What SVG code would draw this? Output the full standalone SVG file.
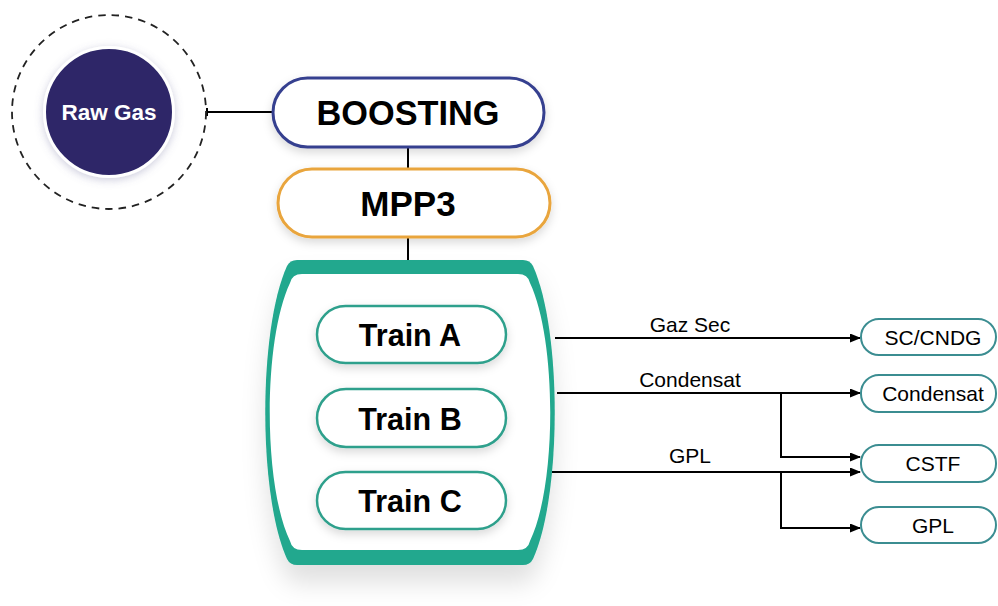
<svg xmlns="http://www.w3.org/2000/svg" width="998" height="606" viewBox="0 0 998 606">
<defs>
<style>
.lbl{font-family:"Liberation Sans",Arial,sans-serif;fill:#000;}
.big{font-weight:bold;text-anchor:middle;}
.sm{font-size:21px;text-anchor:middle;}
.ln{stroke:#000;stroke-width:2;fill:none;}
.out{fill:#fff;stroke:#3b8d91;stroke-width:2;}
.train{fill:#fff;stroke:#2fa08c;stroke-width:2.5;}
</style>
<marker id="arr" markerWidth="11" markerHeight="9" refX="10" refY="4.5" orient="auto" markerUnits="userSpaceOnUse">
<path d="M0,0 L11,4.5 L0,9 Z" fill="#000"/>
</marker>
<filter id="sh" x="-20%" y="-20%" width="140%" height="160%">
<feDropShadow dx="0" dy="4" stdDeviation="5" flood-color="#000" flood-opacity="0.15"/>
</filter>
<filter id="shc" x="-30%" y="-30%" width="160%" height="180%">
<feDropShadow dx="0" dy="18" stdDeviation="12" flood-color="#000" flood-opacity="0.12"/>
</filter>
<filter id="glow" x="-30%" y="-30%" width="160%" height="160%">
<feDropShadow dx="0" dy="2" stdDeviation="4" flood-color="#6a6a9a" flood-opacity="0.35"/>
</filter>
</defs>
<rect width="998" height="606" fill="#fff"/>

<g id="connectors">
<path class="ln" d="M207,112 H273"/>
<path class="ln" d="M207,108 V116" stroke-width="1.5"/>
<path class="ln" d="M408,147 V169"/>
<path class="ln" d="M408,237 V260"/>
<path class="ln" d="M555,338 H860" marker-end="url(#arr)"/>
<path class="ln" d="M557,393 H860" marker-end="url(#arr)"/>
<path class="ln" d="M781,393 V457 H860" marker-end="url(#arr)"/>
<path class="ln" d="M552,472 H860" marker-end="url(#arr)"/>
<path class="ln" d="M781,472 V528 H860" marker-end="url(#arr)"/>
<text class="lbl sm" x="690" y="332">Gaz Sec</text>
<text class="lbl sm" x="690" y="387">Condensat</text>
<text class="lbl sm" x="690" y="463">GPL</text>
</g>

<g id="raw-gas">
<circle cx="109" cy="112" r="97" fill="none" stroke="#222" stroke-width="1.8" stroke-dasharray="7.5 6"/>
<circle cx="109" cy="112" r="64.5" fill="#2d2768" stroke="#fff" stroke-width="3" filter="url(#glow)"/>
<text class="lbl big" x="109" y="120" font-size="22.5" style="fill:#fff">Raw Gas</text>
</g>

<g id="boosting">
<rect x="273" y="78" width="271" height="69" rx="34.5" fill="#fff" stroke="#363f8f" stroke-width="3" filter="url(#sh)"/>
<text class="lbl big" x="408" y="124.5" font-size="34.3">BOOSTING</text>
</g>

<g id="mpp3">
<rect x="278" y="169" width="272" height="68" rx="34" fill="#fff" stroke="#e9a53c" stroke-width="3" filter="url(#sh)"/>
<text class="lbl big" x="408" y="215.5" font-size="35">MPP3</text>
</g>

<g id="trains">
<path filter="url(#shc)" fill="#23a88e" d="M297,260 L523,260 Q530,260 533,266 C562,330 562,495 533,559 Q530,565 523,565 L297,565 Q290,565 287,559 C258,495 258,330 287,266 Q290,260 297,260 Z"/>
<path fill="#fff" d="M302,274 L518,274 Q528,274 530,283 C557,340 557,485 530,541 Q528,550 518,550 L302,550 Q292,550 290,541 C263,485 263,340 290,283 Q292,274 302,274 Z"/>
</g>

<g id="train-a">
<rect class="train" x="317" y="306" width="189" height="57" rx="28.5" filter="url(#sh)"/>
<text class="lbl big" x="410" y="346" font-size="30.5">Train A</text>
</g>
<g id="train-b">
<rect class="train" x="317" y="389" width="189" height="58" rx="29" filter="url(#sh)"/>
<text class="lbl big" x="410" y="429.5" font-size="30.5">Train B</text>
</g>
<g id="train-c">
<rect class="train" x="317" y="472" width="189" height="57" rx="28.5" filter="url(#sh)"/>
<text class="lbl big" x="410" y="512" font-size="30.5">Train C</text>
</g>

<g id="sc-cndg">
<rect class="out" x="861" y="319" width="135" height="36" rx="18"/>
<text class="lbl sm" x="933" y="344.5">SC/CNDG</text>
</g>
<g id="condensat">
<rect class="out" x="861" y="375" width="135" height="37" rx="18"/>
<text class="lbl sm" x="933" y="401">Condensat</text>
</g>
<g id="cstf">
<rect class="out" x="861" y="445" width="135" height="37" rx="18"/>
<text class="lbl sm" x="933" y="471">CSTF</text>
</g>
<g id="gpl">
<rect class="out" x="861" y="507" width="135" height="36" rx="18"/>
<text class="lbl sm" x="933" y="532.5">GPL</text>
</g>
</svg>
